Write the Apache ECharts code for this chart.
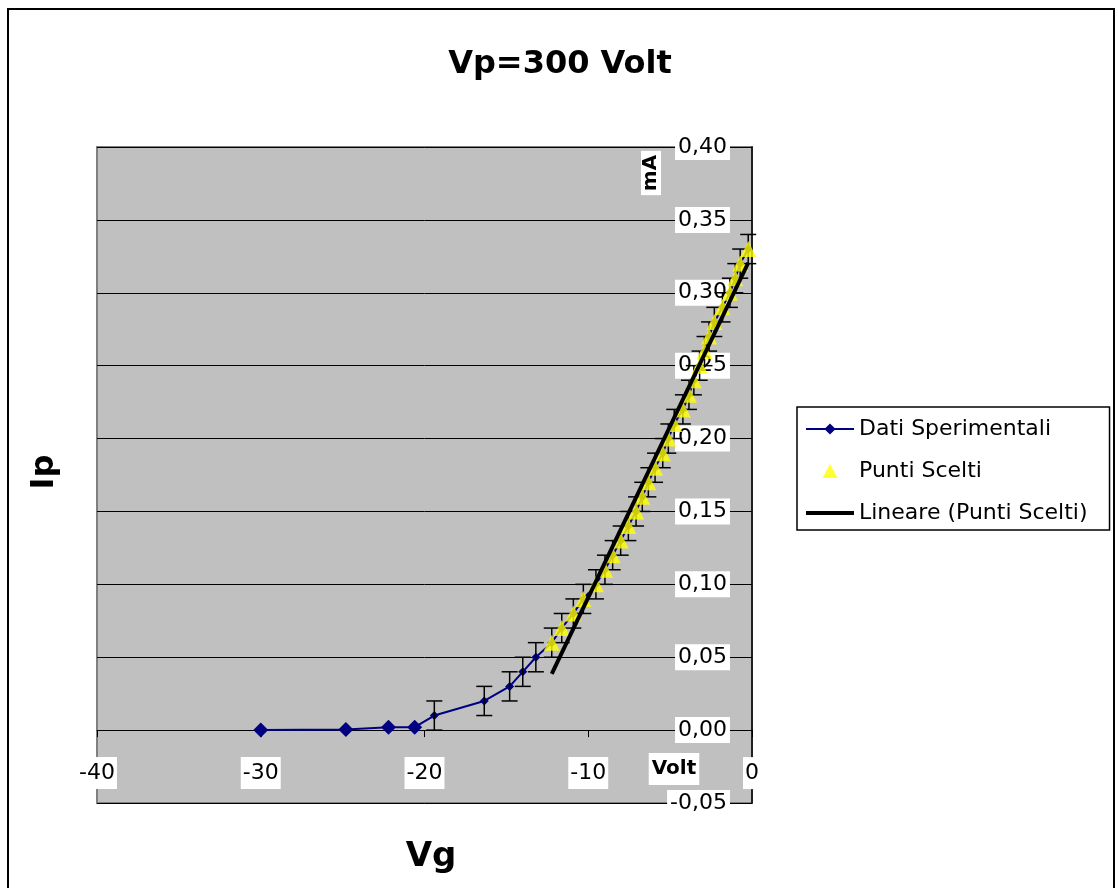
<!DOCTYPE html>
<html>
<head>
<meta charset="utf-8">
<script src="https://cdn.jsdelivr.net/npm/echarts@6/dist/echarts.min.js"></script>
<style>
html,body{margin:0;padding:0;background:#fff;}
#chart{width:1118px;height:888px;}
</style>
</head>
<body>
<div id="chart"></div>
<script>
// ---- data ----
const chartTitle = 'Vp=300 Volt';
const xTitle = 'Vg';
const yTitle = 'Ip';
const xUnit = 'Volt';
const yUnit = 'mA';

// Dati Sperimentali (Vg in Volt, Ip in mA) - low part of the curve
const vgLow = [-30, -24.8, -22.2, -20.6, -19.4, -16.35, -14.8, -14.0, -13.2];
const ipLow = [0, 0.0005, 0.002, 0.002, 0.01, 0.02, 0.03, 0.04, 0.05];
const errLow = [0, 0, 0, 0, 0.01, 0.01, 0.01, 0.01, 0.01];

// Punti Scelti (also part of Dati Sperimentali)
const vgSel = [-12.23, -11.62, -10.91, -10.30, -9.53, -8.98, -8.51, -8.02, -7.55, -7.08,
               -6.70, -6.33, -5.92, -5.45, -5.11, -4.75, -4.22, -3.85, -3.55, -3.20,
               -2.90, -2.62, -2.30, -1.80, -1.35, -1.02, -0.72, -0.23];
const ipSel = [0.06, 0.07, 0.08, 0.09, 0.10, 0.11, 0.12, 0.13, 0.14, 0.15,
               0.16, 0.17, 0.18, 0.19, 0.20, 0.21, 0.22, 0.23, 0.24, 0.25,
               0.26, 0.27, 0.28, 0.29, 0.30, 0.31, 0.32, 0.33];
const errSel = [0.01, 0.01, 0.01, 0.01, 0.01, 0.01, 0.01, 0.01, 0.01, 0.01,
                0.01, 0.01, 0.01, 0.01, 0.01, 0.01, 0.01, 0.01, 0.01, 0.01,
                0.01, 0.01, 0.01, 0.01, 0.01, 0.01, 0.01, 0.01];

// Linear trendline of Punti Scelti
const trendSlope = 0.0235;
const trendIntercept = 0.326;

const xTicks = { min: -40, max: 0, interval: 10 };
const yTicks = { min: -0.05, max: 0.40, interval: 0.05 };

const seriesNames = ['Dati Sperimentali', 'Punti Scelti', 'Lineare (Punti Scelti)'];

// ---- build ----
const vgAll = vgLow.concat(vgSel);
const ipAll = ipLow.concat(ipSel);
const errAll = errLow.concat(errSel);
const expData = vgAll.map((v, i) => [v, ipAll[i]]);
const errData = vgAll.map((v, i) => [v, ipAll[i], errAll[i]]);
const selData = vgSel.map((v, i) => [v, ipSel[i]]);
const tMin = Math.min.apply(null, vgSel), tMax = Math.max.apply(null, vgSel);
const trendData = [[tMin, trendIntercept + trendSlope * tMin], [tMax, trendIntercept + trendSlope * tMax]];

const FONT = 'DejaVu Sans';
const W = 1118, H = 888;
const gridBox = { left: 97, right: 366, top: 147, bottom: 85 };
const gridH = H - gridBox.top - gridBox.bottom;
// the x axis crosses the y axis at Ip = 0
const xAxisOffset = -gridH * (0 - yTicks.min) / (yTicks.max - yTicks.min);

const chart = echarts.init(document.getElementById('chart'));
chart.setOption({
  animation: false,
  backgroundColor: '#fff',
  title: {
    text: chartTitle, left: 555, top: 44, textAlign: 'center',
    textStyle: { fontFamily: FONT, fontSize: 32, fontWeight: 'bold', color: '#000' }
  },
  grid: Object.assign({
    show: true, backgroundColor: '#c0c0c0', borderColor: '#808080', borderWidth: 2
  }, gridBox),
  legend: {
    data: [
      { name: seriesNames[0] },
      { name: seriesNames[1], icon: 'path://M7,0L14,13L0,13Z', symbolKeepAspect: true },
      { name: seriesNames[2], icon: 'path://M0,0h48v4h-48z', symbolKeepAspect: true }
    ],
    orient: 'vertical', left: 797, top: 407,
    padding: [11, 22, 6, 8], itemGap: 20, itemWidth: 48, itemHeight: 14,
    backgroundColor: '#fff', borderColor: '#000', borderWidth: 1.5, borderRadius: 0,
    selectedMode: false,
    textStyle: { fontFamily: FONT, fontSize: 22, color: '#000' }
  },
  xAxis: {
    type: 'value', position: 'bottom', offset: xAxisOffset,
    min: xTicks.min, max: xTicks.max, interval: xTicks.interval,
    axisLine: { onZero: false, lineStyle: { color: '#000', width: 1 } },
    axisTick: { show: true, inside: false, length: 7, lineStyle: { color: '#000' } },
    splitLine: { show: false },
    axisLabel: {
      fontFamily: FONT, fontSize: 22, color: '#000', margin: 27,
      backgroundColor: '#fff', padding: [5, 2, 5, 2]
    }
  },
  yAxis: {
    type: 'value', position: 'right', min: yTicks.min, max: yTicks.max, interval: yTicks.interval,
    axisLine: { show: true, onZero: false, lineStyle: { color: '#000', width: 1.5 } },
    axisTick: { show: true, inside: true, length: 7, lineStyle: { color: '#000' } },
    splitLine: { show: true, lineStyle: { color: '#000', width: 1 } },
    axisLabel: {
      inside: true, margin: 22, fontFamily: FONT, fontSize: 22, color: '#000',
      backgroundColor: '#fff', padding: [2, 3, 2, 3],
      formatter: v => v.toFixed(2).replace('.', ',')
    }
  },
  graphic: [
    { type: 'rect', z: -10, shape: { x: 8, y: 9, width: 1106, height: 900 },
      style: { fill: 'none', stroke: '#000', lineWidth: 2 } },
    { type: 'text', x: 45, y: 472, rotation: Math.PI / 2,
      style: { text: yTitle, fontFamily: FONT, fontSize: 32, fontWeight: 'bold', fill: '#000', align: 'center', verticalAlign: 'middle' } },
    { type: 'text', x: 431, y: 857,
      style: { text: xTitle, fontFamily: FONT, fontSize: 34, fontWeight: 'bold', fill: '#000', align: 'center', verticalAlign: 'middle' } },
    { type: 'text', x: 674, y: 769, z: 100,
      style: { text: xUnit, fontFamily: FONT, fontSize: 20, fontWeight: 'bold', fill: '#000', align: 'center', verticalAlign: 'middle',
               backgroundColor: '#fff', padding: [6, 3, 6, 3] } },
    { type: 'text', x: 651, y: 173, rotation: Math.PI / 2, z: 100,
      style: { text: yUnit, fontFamily: FONT, fontSize: 20, fontWeight: 'bold', fill: '#000', align: 'center', verticalAlign: 'middle',
               backgroundColor: '#fff', padding: [0, 4, 0, 4] } }
  ],
  series: [
    {
      name: seriesNames[0], type: 'line', data: expData, z: 2,
      symbol: 'diamond', symbolSize: (val, params) => (params.dataIndex < 4 ? 15 : 9),
      lineStyle: { color: '#000080', width: 2 },
      itemStyle: { color: '#000080' }
    },
    {
      name: 'errorbars', type: 'custom', data: errData, z: 3,
      encode: { x: 0, y: 1 },
      renderItem: function (params, api) {
        const x = api.value(0), y = api.value(1), e = api.value(2);
        if (!e) return { type: 'group', children: [] };
        const top = api.coord([x, y + e]);
        const bot = api.coord([x, y - e]);
        const hw = 8;
        const st = { stroke: '#000', lineWidth: 1.5 };
        return {
          type: 'group', children: [
            { type: 'line', shape: { x1: top[0], y1: top[1], x2: bot[0], y2: bot[1] }, style: st },
            { type: 'line', shape: { x1: top[0] - hw, y1: top[1], x2: top[0] + hw, y2: top[1] }, style: st },
            { type: 'line', shape: { x1: bot[0] - hw, y1: bot[1], x2: bot[0] + hw, y2: bot[1] }, style: st }
          ]
        };
      }
    },
    {
      name: seriesNames[1], type: 'scatter', data: selData, z: 4,
      symbol: 'triangle', symbolSize: 16, symbolKeepAspect: true,
      itemStyle: { color: '#ffff00' }
    },
    {
      name: seriesNames[2], type: 'line', data: trendData, z: 5,
      symbol: 'none', lineStyle: { color: '#000', width: 4 },
      itemStyle: { color: '#000' }
    }
  ]
});
</script>
</body>
</html>
